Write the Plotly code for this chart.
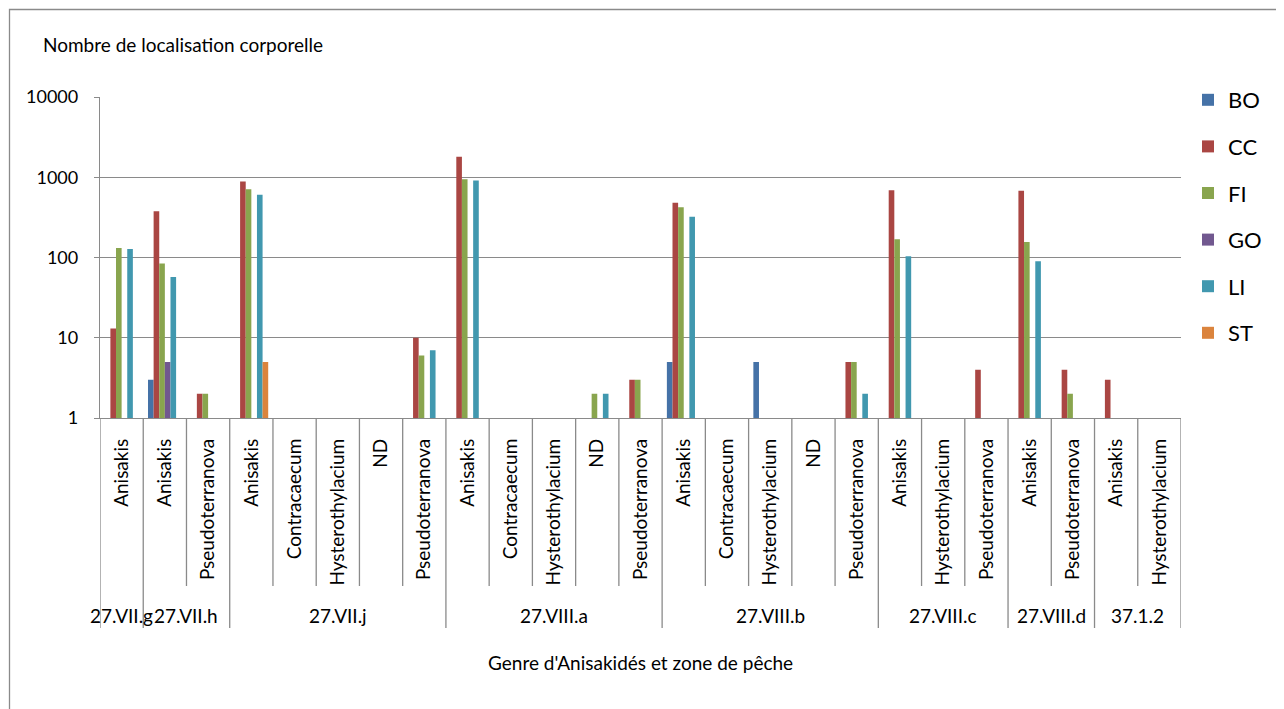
import plotly.graph_objects as go

# ---------------- data ----------------
zones = ["27.VII.g", "27.VII.h", "27.VII.h",
         "27.VII.j", "27.VII.j", "27.VII.j", "27.VII.j", "27.VII.j",
         "27.VIII.a", "27.VIII.a", "27.VIII.a", "27.VIII.a", "27.VIII.a",
         "27.VIII.b", "27.VIII.b", "27.VIII.b", "27.VIII.b", "27.VIII.b",
         "27.VIII.c", "27.VIII.c", "27.VIII.c",
         "27.VIII.d", "27.VIII.d",
         "37.1.2", "37.1.2"]
genres = ["Anisakis", "Anisakis", "Pseudoterranova",
          "Anisakis", "Contracaecum", "Hysterothylacium", "ND", "Pseudoterranova",
          "Anisakis", "Contracaecum", "Hysterothylacium", "ND", "Pseudoterranova",
          "Anisakis", "Contracaecum", "Hysterothylacium", "ND", "Pseudoterranova",
          "Anisakis", "Hysterothylacium", "Pseudoterranova",
          "Anisakis", "Pseudoterranova",
          "Anisakis", "Hysterothylacium"]

BO = [None, 3, None, None, None, None, None, None, None, None, None, None, None,
      5, None, 5, None, None, None, None, None, None, None, None, None]
CC = [13, 378, 2, 886, None, None, None, 10, 1800, None, None, None, 3,
      480, None, None, None, 5, 690, None, 4, 677, 4, 3, None]
FI = [131, 84, 2, 711, None, None, None, 6, 947, None, None, 2, 3,
      424, None, None, None, 5, 169, None, None, 156, 2, None, None]
GO = [None, 5, None, None, None, None, None, None, None, None, None, None, None,
      None, None, None, None, None, None, None, None, None, None, None, None]
LI = [128, 57, None, 604, None, None, None, 7, 912, None, None, 2, None,
      321, None, None, None, 2, 104, None, None, 90, None, None, None]
ST = [None, None, None, 5, None, None, None, None, None, None, None, None, None,
      None, None, None, None, None, None, None, None, None, None, None, None]

series_names = ["BO", "CC", "FI", "GO", "LI", "ST"]
series_values = [BO, CC, FI, GO, LI, ST]
series_colors = ["#4572A7", "#AA4643", "#89A54E", "#71588F", "#4198AF", "#DB843D"]

y_ticks = [1, 10, 100, 1000, 10000]
y_title = "Nombre de localisation corporelle"
x_title = "Genre d'Anisakidés et zone de pêche"

# ---------------- layout geometry ----------------
OFF = 8                     # page body margin
W, H = 1284 - OFF, 709 - OFF
# plot area in page pixels
PL, PR, PT, PB = 100, 1181, 97, 418
FONT = "Lato, Carlito, Calibri, sans-serif"
GRID = "#8A8A8A"


def px_x(p):
    return (p - PL) / (PR - PL)


def px_y(p):
    return (PB - p) / (PB - PT)


idx = list(range(len(genres)))

fig = go.Figure()
for name, vals, col in zip(series_names, series_values, series_colors):
    fig.add_trace(go.Bar(
        x=idx, y=vals, name=name, legendgroup=name,
        marker=dict(color=col, line=dict(width=0)),
    ))

shapes = []
# separators below the axis
for b in range(len(genres) + 1):
    is_zone = b == 0 or b == len(genres) or zones[b] != zones[b - 1]
    shapes.append(dict(
        type="line", xref="x", yref="paper",
        x0=b - 0.5, x1=b - 0.5, y0=0, y1=px_y(628 if is_zone else 586),
        line=dict(color=GRID, width=1.3),
    ))
# outer chart border
shapes.append(dict(
    type="rect", xref="paper", yref="paper",
    x0=px_x(9.5), x1=px_x(1281.5), y0=px_y(730), y1=px_y(9.5),
    line=dict(color=GRID, width=1.3), fillcolor="rgba(0,0,0,0)", layer="below",
))

annotations = []
# zone labels
start = 0
for i in range(1, len(zones) + 1):
    if i == len(zones) or zones[i] != zones[start]:
        annotations.append(dict(
            x=(start + i - 1) / 2, xref="x", y=px_y(615), yref="paper",
            text=zones[start], showarrow=False, xanchor="center", yanchor="middle",
            font=dict(family=FONT, size=19, color="#000000"),
        ))
        start = i
annotations.append(dict(
    x=px_x(41), xref="paper", y=px_y(45), yref="paper", text=y_title,
    showarrow=False, xanchor="left", yanchor="middle",
    font=dict(family=FONT, size=19, color="#000000"),
))
annotations.append(dict(
    x=0.5, xref="paper", y=px_y(662), yref="paper", text=x_title,
    showarrow=False, xanchor="center", yanchor="middle",
    font=dict(family=FONT, size=19, color="#000000"),
))

fig.update_layout(
    width=W, height=H,
    margin=dict(l=PL - OFF, r=1284 - PR, t=PT - OFF, b=709 - PB, pad=0),
    paper_bgcolor="white", plot_bgcolor="white",
    barmode="group", bargap=0.22, bargroupgap=0,
    font=dict(family=FONT, size=19, color="#000000"),
    shapes=shapes, annotations=annotations,
    legend=dict(
        x=px_x(1188), y=px_y(79), xanchor="left", yanchor="top",
        font=dict(family=FONT, size=22, color="#000000"),
        tracegroupgap=15, bgcolor="rgba(0,0,0,0)",
    ),
    xaxis=dict(
        range=[-0.5, len(genres) - 0.5], tickmode="array",
        tickvals=idx, ticktext=genres, tickangle=-90,
        showgrid=False, zeroline=False, showline=True, linecolor=GRID, linewidth=1.3,
        ticks="", ticklabelstandoff=12,
        tickfont=dict(family=FONT, size=19, color="#000000"),
    ),
    yaxis=dict(
        type="log", range=[0, 4], tickmode="array",
        tickvals=y_ticks, ticktext=[str(v) for v in y_ticks],
        showgrid=True, gridcolor=GRID, gridwidth=1.3,
        showline=True, linecolor=GRID, linewidth=1.3,
        ticks="outside", ticklen=5, tickcolor=GRID, tickwidth=1.3,
        ticklabelstandoff=12, zeroline=False,
        tickfont=dict(family=FONT, size=18, color="#000000"),
    ),
)

fig.write_html("out.html")
